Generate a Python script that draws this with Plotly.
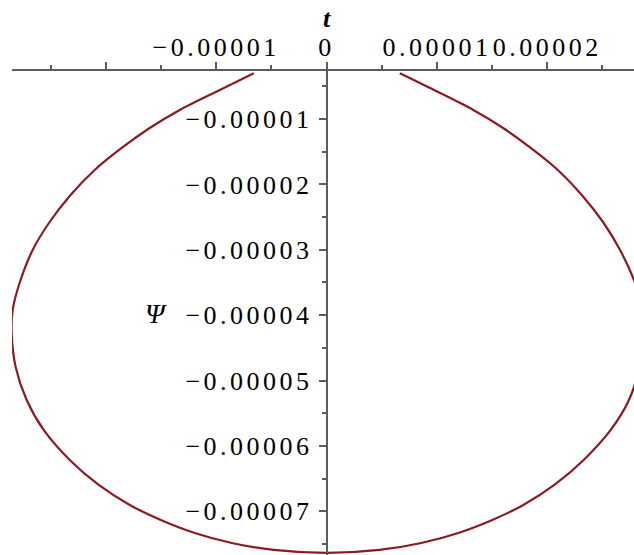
import plotly.graph_objects as go

# Curve (units: 1e-5), from left end, around the bottom, to right end
t_vals = [-0.659, -0.967, -1.330, -1.602, -1.856, -2.101, -2.327, -2.509, -2.663, -2.781,
          -2.844, -2.853, -2.817, -2.717, -2.563, -2.327, -2.064, -1.783, -1.502, -1.194,
          -0.859, -0.478, 0.0,
          0.478, 0.859, 1.194, 1.502, 1.783, 2.064, 2.330, 2.575, 2.740, 2.835, 2.870,
          2.855, 2.785, 2.660, 2.505, 2.320, 2.095, 1.850, 1.600, 1.330, 0.975, 0.664]
psi_vals = [-0.301, -0.557, -0.862, -1.138, -1.443, -1.780, -2.177, -2.575, -3.003, -3.508,
            -3.920, -4.272, -4.792, -5.297, -5.755, -6.214, -6.596, -6.902, -7.131, -7.330,
            -7.483, -7.590, -7.636,
            -7.590, -7.483, -7.330, -7.131, -6.902, -6.596, -6.214, -5.755, -5.297, -4.792, -4.200,
            -3.850, -3.460, -3.003, -2.575, -2.177, -1.780, -1.443, -1.138, -0.862, -0.557, -0.301]
scale = 1e-5

x_major = [-2e-5, -1e-5, 0, 1e-5, 2e-5]
x_major_text = ["", "−0.00001", "0", "0.00001", "0.00002"]
x_minor = [-2.5e-5, -1.5e-5, -0.5e-5, 0.5e-5, 1.5e-5, 2.5e-5]
y_major = [-1e-5, -2e-5, -3e-5, -4e-5, -5e-5, -6e-5, -7e-5]
y_major_text = ["−0.00001", "−0.00002", "−0.00003", "−0.00004", "−0.00005", "−0.00006", "−0.00007"]
y_minor = [-0.5e-5, -1.5e-5, -2.5e-5, -3.5e-5, -4.5e-5, -5.5e-5, -6.5e-5, -7.5e-5]

FONT = "Liberation Serif"
AX = "#5c5c5c"

fig = go.Figure()
fig.add_trace(go.Scatter(
    x=[v * scale for v in t_vals], y=[v * scale for v in psi_vals],
    mode="lines", line=dict(color="#8c1a22", width=2.2, shape="spline", smoothing=0.9),
    hoverinfo="skip", showlegend=False))

xr = [-2.850e-5, 2.786e-5]
ypos = (0 - xr[0]) / (xr[1] - xr[0])

fig.update_layout(
    width=634, height=555,
    margin=dict(l=12, r=0, t=71, b=0),
    paper_bgcolor="white", plot_bgcolor="white",
    xaxis=dict(range=xr, side="top", showline=True, linecolor=AX, linewidth=1.5,
               ticks="outside", ticklen=7, tickwidth=1.5, tickcolor=AX,
               tickmode="array", tickvals=x_major, ticktext=x_major_text,
               minor=dict(tickmode="array", tickvals=x_minor, ticks="outside", ticklen=4,
                          tickwidth=1.5, tickcolor=AX),
               showgrid=False, zeroline=False, automargin=False,
               tickfont=dict(family=FONT, size=26, color="black"), ticklabelstandoff=-4),
    yaxis=dict(range=[-7.667e-5, -0.266e-5], anchor="free", position=ypos, side="left",
               showline=True, linecolor=AX, linewidth=1.5,
               ticks="outside", ticklen=7, tickwidth=1.5, tickcolor=AX,
               tickmode="array", tickvals=y_major, ticktext=y_major_text,
               minor=dict(tickmode="array", tickvals=y_minor, ticks="outside", ticklen=4,
                          tickwidth=1.5, tickcolor=AX),
               showgrid=False, zeroline=False, automargin=False,
               tickfont=dict(family=FONT, size=26, color="black"), ticklabelstandoff=1),
    annotations=[
        dict(text="<b><i>t</i></b>", xref="paper", yref="paper", x=ypos, y=1, yshift=53,
             showarrow=False, font=dict(family=FONT, size=26, color="black"),
             xanchor="center", yanchor="middle"),
        dict(text="<i>Ψ</i>", xref="paper", yref="y", x=0, xshift=144, y=-3.98e-5,
             showarrow=False, font=dict(family=FONT, size=28, color="black"),
             xanchor="center", yanchor="middle"),
    ],
)

post = """
document.body.style.margin='0';document.body.style.overflow='hidden';
var gd = document.getElementById('{plot_id}');
function ls(){ gd.querySelectorAll('.xtick text, .ytick text').forEach(function(e){ e.setAttribute('letter-spacing','3.5px'); }); }
ls(); if (gd.on) { gd.on('plotly_afterplot', ls); } setTimeout(ls, 30);
"""

fig.write_html("out.html", config={"displayModeBar": False}, post_script=post)
